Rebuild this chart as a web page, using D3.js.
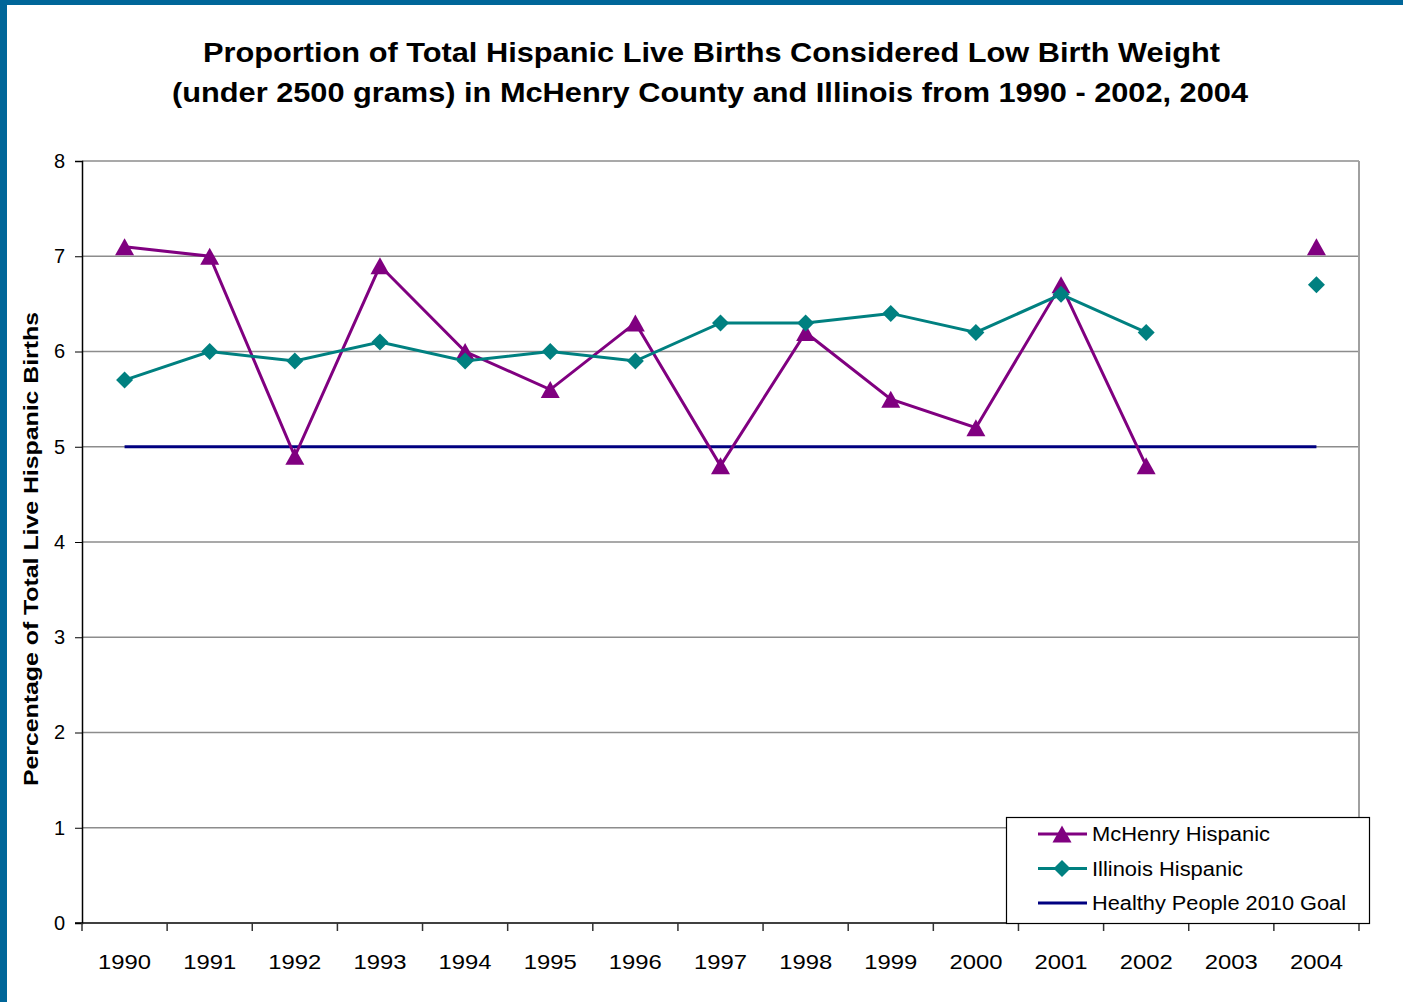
<!DOCTYPE html>
<html><head><meta charset="utf-8">
<script src="https://cdnjs.cloudflare.com/ajax/libs/d3/7.8.5/d3.min.js"></script>
<style>body{margin:0;background:#fff}svg{display:block}text{font-family:"Liberation Sans",Arial,sans-serif}</style>
</head><body><svg id="c" width="1403" height="1002"></svg>
<script>
const years = ["1990","1991","1992","1993","1994","1995","1996","1997","1998","1999","2000","2001","2002","2003","2004"];
const mchenry = [7.1,7.0,4.9,6.9,6.0,5.6,6.3,4.8,6.2,5.5,5.2,6.7,4.8,null,7.1];
const illinois = [5.7,6.0,5.9,6.1,5.9,6.0,5.9,6.3,6.3,6.4,6.2,6.6,6.2,null,6.7];
const goal = [5,5,5,5,5,5,5,5,5,5,5,5,5,5,5];
const yTicks = [0,1,2,3,4,5,6,7,8];
const seriesNames = ["McHenry Hispanic","Illinois Hispanic","Healthy People 2010 Goal"];

const svg = d3.select("#c");
const W=1403,H=1002;
const L=82,R=1359,T=161,B=923;
svg.append("rect").attr("width",W).attr("height",H).attr("fill","#fff");
svg.append("rect").attr("x",0).attr("y",0).attr("width",W).attr("height",5).attr("fill","#006699");
svg.append("rect").attr("x",0).attr("y",0).attr("width",7).attr("height",H).attr("fill","#006699");

const x = d3.scaleBand().domain(years).range([L,R]);
const y = d3.scaleLinear().domain([0,8]).range([B,T]);
const cx = d => x(d)+x.bandwidth()/2;

// gridlines
svg.append("g").selectAll("line").data(yTicks.filter(v=>v>0)).join("line")
  .attr("x1",L).attr("x2",R).attr("y1",d=>y(d)).attr("y2",d=>y(d))
  .attr("stroke","#8c8c8c").attr("stroke-width",1.3);
svg.append("line").attr("x1",R).attr("x2",R).attr("y1",T).attr("y2",B).attr("stroke","#a0a0a0").attr("stroke-width",2);

// axes
const ya = svg.append("g").attr("transform",`translate(${L},0)`)
  .call(d3.axisLeft(y).tickValues(yTicks).tickSize(7).tickPadding(10).tickFormat(d3.format("d")));
ya.select(".domain").attr("stroke","#000").attr("stroke-width",1.5);
ya.selectAll(".tick line").attr("stroke","#000");
ya.selectAll("text").attr("font-size",20).attr("fill","#000");

const xa = svg.append("g").attr("transform",`translate(0,${B})`)
  .call(d3.axisBottom(x).tickSize(0).tickPadding(0));
xa.select(".domain").remove();
xa.selectAll("text").attr("y",46).attr("dy",null).attr("font-size",21).attr("fill","#000")
  .attr("textLength",53).attr("lengthAdjust","spacingAndGlyphs");
svg.append("line").attr("x1",L-7).attr("x2",R).attr("y1",B).attr("y2",B).attr("stroke","#000").attr("stroke-width",1.5);
const edges = years.map(d=>x(d)).concat([R]);
svg.append("g").selectAll("line").data(edges).join("line")
  .attr("x1",d=>d).attr("x2",d=>d).attr("y1",B).attr("y2",B+8).attr("stroke","#333").attr("stroke-width",1.5);

// titles
const tAttrs = (s)=>s.attr("text-anchor","middle").attr("font-weight","bold").attr("font-size",27).attr("fill","#000").attr("lengthAdjust","spacingAndGlyphs");
svg.append("text").call(tAttrs).attr("x",711.5).attr("y",62).attr("textLength",1017)
  .text("Proportion of Total Hispanic Live Births Considered Low Birth Weight");
svg.append("text").call(tAttrs).attr("x",710).attr("y",102).attr("textLength",1076)
  .text("(under 2500 grams) in McHenry County and Illinois from 1990 - 2002, 2004");
svg.append("text").attr("transform","translate(38,549) rotate(-90)").attr("text-anchor","middle")
  .attr("font-weight","bold").attr("font-size",21).attr("fill","#000")
  .attr("textLength",474).attr("lengthAdjust","spacingAndGlyphs").text("Percentage of Total Live Hispanic Births");

const line = d3.line().defined(d=>d.v!=null).x(d=>cx(d.k)).y(d=>y(d.v));
const toPts = arr => years.map((k,i)=>({k,v:arr[i]}));
const tri = "M0,-8.5L9.5,8.5L-9.5,8.5Z";
const dia = "M0,-8.5L8.5,0L0,8.5L-8.5,0Z";

// goal
svg.append("path").datum(toPts(goal)).attr("d",line).attr("fill","none").attr("stroke","#000080").attr("stroke-width",3);
// mchenry
svg.append("path").datum(toPts(mchenry)).attr("d",line).attr("fill","none").attr("stroke","#800080").attr("stroke-width",3);
svg.append("g").selectAll("path").data(toPts(mchenry).filter(d=>d.v!=null)).join("path")
  .attr("d",tri).attr("transform",d=>`translate(${cx(d.k)},${y(d.v)})`).attr("fill","#800080");
// illinois
svg.append("path").datum(toPts(illinois)).attr("d",line).attr("fill","none").attr("stroke","#008080").attr("stroke-width",3);
svg.append("g").selectAll("path").data(toPts(illinois).filter(d=>d.v!=null)).join("path")
  .attr("d",dia).attr("transform",d=>`translate(${cx(d.k)},${y(d.v)})`).attr("fill","#008080");

// legend
const lg = svg.append("g");
lg.append("rect").attr("x",1006.5).attr("y",817.5).attr("width",363).attr("height",106).attr("fill","#fff").attr("stroke","#000").attr("stroke-width",1.2);
const colors=["#800080","#008080","#000080"];
const syms=[tri,dia,null];
const lens=[178,151,254];
seriesNames.forEach((n,i)=>{
  const yy = 834 + i*34.5;
  lg.append("line").attr("x1",1038).attr("x2",1087).attr("y1",yy).attr("y2",yy).attr("stroke",colors[i]).attr("stroke-width",3);
  if(syms[i]) lg.append("path").attr("d",syms[i]).attr("transform",`translate(1062,${yy})`).attr("fill",colors[i]);
  lg.append("text").attr("x",1092).attr("y",yy+7).attr("font-size",20).attr("fill","#000")
    .attr("textLength",lens[i]).attr("lengthAdjust","spacingAndGlyphs").text(n);
});
</script></body></html>
